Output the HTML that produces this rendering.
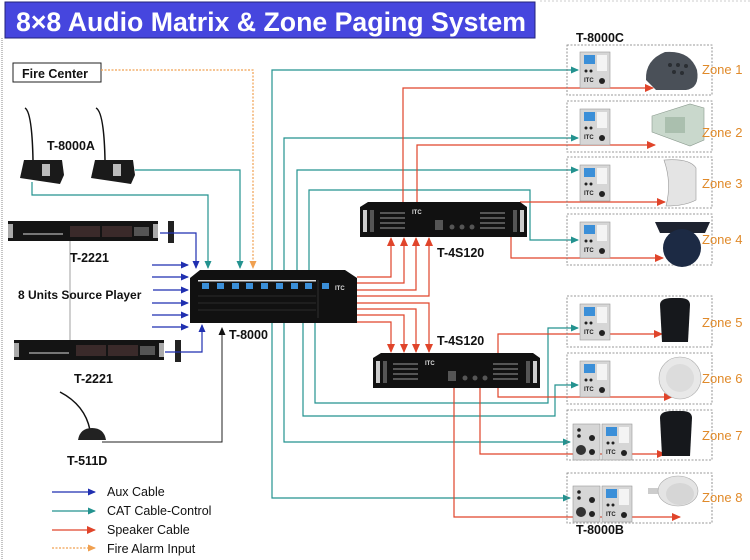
<!DOCTYPE html>
<html><head><meta charset="utf-8"><style>
html,body{margin:0;padding:0;background:#fff;}
svg{display:block;font-family:"Liberation Sans",Arial,sans-serif;}
</style></head><body>
<svg width="750" height="560" viewBox="0 0 750 560" xmlns="http://www.w3.org/2000/svg">
<defs>
<marker id="ab" markerWidth="8" markerHeight="8" refX="7" refY="4" orient="auto" markerUnits="userSpaceOnUse"><path d="M0,0.5 L8,4 L0,7.5z" fill="#1f2fb0"/></marker>
<marker id="at" markerWidth="8" markerHeight="8" refX="7" refY="4" orient="auto" markerUnits="userSpaceOnUse"><path d="M0,0.5 L8,4 L0,7.5z" fill="#23928f"/></marker>
<marker id="ar" markerWidth="9" markerHeight="9" refX="8" refY="4.5" orient="auto" markerUnits="userSpaceOnUse"><path d="M0,0.5 L9,4.5 L0,8.5z" fill="#e0442a"/></marker>
<marker id="ao" markerWidth="8" markerHeight="8" refX="7" refY="4" orient="auto" markerUnits="userSpaceOnUse"><path d="M0,0.5 L8,4 L0,7.5z" fill="#f0a050"/></marker>
<marker id="ak" markerWidth="8" markerHeight="8" refX="7" refY="4" orient="auto" markerUnits="userSpaceOnUse"><path d="M0,0.5 L8,4 L0,7.5z" fill="#111"/></marker>
<g id="panel">
<rect x="0" y="0" width="30" height="36" fill="#d6d6d6" stroke="#999" stroke-width="0.6"/>
<rect x="4" y="3" width="11" height="9" fill="#3b8fd8"/>
<rect x="17" y="3" width="10" height="16" fill="#f4f4f4"/>
<circle cx="6" cy="19" r="1.5" fill="#222"/><circle cx="11" cy="19" r="1.5" fill="#222"/>
<text x="4" y="30" font-size="6" font-weight="bold" fill="#222">ITC</text>
<circle cx="22" cy="29" r="3" fill="#222"/>
</g>
<g id="panel2">
<rect x="0" y="0" width="27" height="36" fill="#d6d6d6" stroke="#999" stroke-width="0.6"/>
<circle cx="6" cy="6" r="1.8" fill="#222"/><circle cx="6" cy="12" r="1.8" fill="#222"/>
<circle cx="8" cy="26" r="5" fill="#333"/><circle cx="19" cy="14" r="3" fill="#222"/><circle cx="19" cy="28" r="3" fill="#222"/>
<use href="#panel" x="29"/>
</g>
<g id="rack">
<rect x="0" y="0" width="150" height="20" fill="#141414"/>
<rect x="0" y="3" width="5" height="14" fill="#aaa"/><rect x="145" y="3" width="5" height="14" fill="#aaa"/>
<rect x="62" y="5" width="30" height="11" fill="#3a2a2a"/><rect x="94" y="5" width="30" height="11" fill="#3a2a2a"/>
<rect x="15" y="12" width="40" height="2" fill="#777"/><rect x="126" y="6" width="15" height="9" fill="#555"/>
</g>
<g id="amp">
<path d="M8,0 L160,0 L167,5 L167,35 L0,35 L0,5z" fill="#111"/>
<rect x="3" y="8" width="4" height="22" fill="#ccc"/><rect x="160" y="8" width="4" height="22" fill="#ccc"/>
<rect x="10" y="8" width="4" height="22" fill="#555"/><rect x="153" y="8" width="4" height="22" fill="#555"/>
<g fill="#555"><rect x="20" y="10" width="25" height="2"/><rect x="20" y="15" width="25" height="2"/><rect x="20" y="20" width="25" height="2"/><rect x="20" y="25" width="25" height="2"/>
<rect x="120" y="10" width="25" height="2"/><rect x="120" y="15" width="25" height="2"/><rect x="120" y="20" width="25" height="2"/><rect x="120" y="25" width="25" height="2"/>
<rect x="75" y="18" width="8" height="10"/><circle cx="92" cy="25" r="2.5"/><circle cx="102" cy="25" r="2.5"/><circle cx="112" cy="25" r="2.5"/></g>
<text x="52" y="12" font-size="6" font-weight="bold" fill="#ddd">ITC</text>
</g>
</defs>

<!-- title -->
<rect x="5" y="2" width="530" height="36" fill="#4646de" stroke="#23237a" stroke-width="1"/>
<text x="16" y="31" font-size="27" font-weight="bold" fill="#fff" textLength="510" lengthAdjust="spacingAndGlyphs">8×8 Audio Matrix &amp; Zone Paging System</text>
<line x1="2" y1="38" x2="2" y2="560" stroke="#888" stroke-dasharray="1,1"/>
<line x1="540" y1="1" x2="750" y2="1" stroke="#ccc" stroke-dasharray="2,2"/>

<!-- Fire center -->
<rect x="13" y="63" width="88" height="19" fill="#fff" stroke="#222"/>
<text x="22" y="78" font-size="12.5" font-weight="bold" fill="#111">Fire Center</text>
<polyline points="101,70 253,70 253,268" fill="none" stroke="#f0a050" stroke-width="1.2" stroke-dasharray="2,1.5" marker-end="url(#ao)"/>

<!-- T-8000A mics -->
<g>
<path d="M25,108 Q32,112 33,160" fill="none" stroke="#111" stroke-width="1.5"/>
<path d="M96,108 Q104,112 105,160" fill="none" stroke="#111" stroke-width="1.5"/>
<path d="M24,160 L62,160 L64,175 L60,184 L20,178 Z" fill="#1a1a1a"/>
<path d="M95,160 L133,160 L135,175 L131,184 L91,178 Z" fill="#1a1a1a"/>
<rect x="42" y="164" width="8" height="12" fill="#bbb"/><rect x="113" y="164" width="8" height="12" fill="#bbb"/>
</g>
<text x="47" y="150" font-size="12.5" font-weight="bold" fill="#111">T-8000A</text>
<polyline points="32,182 32,195 208,195 208,268" fill="none" stroke="#23928f" stroke-width="1.2" marker-end="url(#at)"/>
<polyline points="135,170 240,170 240,268" fill="none" stroke="#23928f" stroke-width="1.2" marker-end="url(#at)"/>

<!-- T-2221 -->
<line x1="70" y1="241" x2="70" y2="340" stroke="#888" stroke-width="0.8"/>
<use href="#rack" x="8" y="221"/>
<rect x="168" y="221" width="6" height="22" fill="#222"/>
<text x="70" y="262" font-size="12.5" font-weight="bold" fill="#111">T-2221</text>
<polyline points="160,233 196,233 196,268" fill="none" stroke="#1f2fb0" stroke-width="1.2" marker-end="url(#ab)"/>
<use href="#rack" x="14" y="340"/>
<rect x="175" y="340" width="6" height="22" fill="#222"/>
<text x="74" y="383" font-size="12.5" font-weight="bold" fill="#111">T-2221</text>
<polyline points="165,352 202,352 202,325" fill="none" stroke="#1f2fb0" stroke-width="1.2" marker-end="url(#ab)"/>
<g stroke="#1f2fb0" stroke-width="1.2" marker-end="url(#ab)">
<line x1="152" y1="265" x2="188" y2="265"/><line x1="152" y1="277" x2="188" y2="277"/>
<line x1="152" y1="290" x2="188" y2="290"/><line x1="152" y1="303" x2="188" y2="303"/>
<line x1="152" y1="315" x2="188" y2="315"/><line x1="152" y1="327" x2="188" y2="327"/>
</g>
<rect x="17" y="287" width="136" height="14" fill="#fff"/>
<line x1="70" y1="287" x2="70" y2="301" stroke="#888" stroke-width="0.8"/>
<text x="18" y="299" font-size="12" font-weight="bold" fill="#111">8 Units Source Player</text>

<!-- T-511D -->
<path d="M60,392 Q85,405 90,430" fill="none" stroke="#111" stroke-width="1.5"/>
<path d="M78,440 Q80,428 92,428 Q104,428 106,440 Z" fill="#222"/>
<text x="67" y="465" font-size="12.5" font-weight="bold" fill="#111">T-511D</text>
<polyline points="102,442 222,442 222,328" fill="none" stroke="#222" stroke-width="1" marker-end="url(#ak)"/>

<!-- teal to zones (top) -->
<g fill="none" stroke="#23928f" stroke-width="1.2" marker-end="url(#at)">
<polyline points="272,270 272,70 578,70"/>
<polyline points="284,270 284,138 578,138"/>
<polyline points="297,270 297,170 578,170"/>
<polyline points="309,270 309,190 530,190 530,240 578,240"/>
<polyline points="272,323 272,498 570,498"/>
<polyline points="284,323 284,442 570,442"/>
<polyline points="303,323 303,416 555,416 555,385 578,385"/>
<polyline points="315,323 315,403 548,403 548,328 578,328"/>
</g>

<!-- T-8000 -->
<path d="M200,270 L345,270 L357,278 L357,323 L190,323 L190,278z" fill="#111"/>
<g fill="#3b8fd8">
<rect x="202" y="283" width="7" height="6"/><rect x="217" y="283" width="7" height="6"/><rect x="232" y="283" width="7" height="6"/><rect x="246" y="283" width="7" height="6"/>
<rect x="261" y="283" width="7" height="6"/><rect x="276" y="283" width="7" height="6"/><rect x="291" y="283" width="7" height="6"/><rect x="305" y="283" width="7" height="6"/><rect x="322" y="283" width="7" height="6"/>
</g>
<rect x="198" y="280" width="118" height="1.5" fill="#ddd"/>
<g stroke="#444" stroke-width="0.6"><line x1="198" y1="296" x2="316" y2="296"/><line x1="198" y1="303" x2="316" y2="303"/><line x1="198" y1="310" x2="316" y2="310"/><line x1="318" y1="280" x2="318" y2="318"/></g>
<text x="335" y="290" font-size="6" font-weight="bold" fill="#ddd">ITC</text>
<text x="229" y="339" font-size="12.5" font-weight="bold" fill="#111">T-8000</text>

<!-- red to amps -->
<g fill="none" stroke="#e0442a" stroke-width="1.2" marker-end="url(#ar)">
<polyline points="357,277 391,277 391,238"/>
<polyline points="357,283 404,283 404,238"/>
<polyline points="357,290 416,290 416,238"/>
<polyline points="357,296 429,296 429,238"/>
<polyline points="357,303 429,303 429,352"/>
<polyline points="357,309 416,309 416,352"/>
<polyline points="357,315 404,315 404,352"/>
<polyline points="357,322 391,322 391,352"/>
<!-- amp outputs -->
<polyline points="403,202 403,88 653,88"/>
<polyline points="417,202 417,145 655,145"/>
<polyline points="520,202 665,202"/>
<polyline points="511,237 511,258 663,258"/>
<polyline points="498,353 498,334 662,334"/>
<polyline points="498,388 498,397 672,397"/>
<polyline points="480,388 480,454 665,454"/>
<polyline points="454,388 454,517 680,517"/>
</g>

<use href="#amp" x="360" y="202"/>
<text x="437" y="257" font-size="12.5" font-weight="bold" fill="#111">T-4S120</text>
<use href="#amp" x="373" y="353"/>
<text x="437" y="345" font-size="12.5" font-weight="bold" fill="#111">T-4S120</text>

<!-- zone boxes -->
<g fill="none" stroke="#777" stroke-width="0.8" stroke-dasharray="2,1.5">
<rect x="567" y="45" width="145" height="50"/><rect x="567" y="101" width="145" height="51"/>
<rect x="567" y="157" width="145" height="51"/><rect x="567" y="214" width="145" height="51"/>
<rect x="567" y="296" width="145" height="51"/><rect x="567" y="353" width="145" height="51"/>
<rect x="567" y="410" width="145" height="50"/><rect x="567" y="473" width="145" height="50"/>
</g>
<text x="576" y="42" font-size="12.5" font-weight="bold" fill="#111">T-8000C</text>
<text x="576" y="534" font-size="12.5" font-weight="bold" fill="#111">T-8000B</text>
<use href="#panel" x="580" y="52"/><use href="#panel" x="580" y="109"/>
<use href="#panel" x="580" y="165"/><use href="#panel" x="580" y="222"/>
<use href="#panel" x="580" y="304"/><use href="#panel" x="580" y="361"/>
<use href="#panel2" x="573" y="424"/><use href="#panel2" x="573" y="486"/>

<!-- speakers -->
<path d="M646,80 Q645,60 665,52 Q690,50 697,70 Q700,88 686,90 L656,90 Z" fill="#4a5058"/>
<g fill="#2a2e33"><circle cx="670" cy="65" r="2"/><circle cx="678" cy="65" r="2"/><circle cx="686" cy="66" r="2"/><circle cx="674" cy="72" r="2"/><circle cx="682" cy="73" r="2"/></g>
<path d="M652,116 L690,104 L704,108 L704,140 L690,146 L652,132 Z" fill="#c9d8cc" stroke="#8a9a8e" stroke-width="0.6"/>
<rect x="665" y="117" width="20" height="16" fill="#aabfae"/>
<path d="M664,160 Q690,158 696,168 L696,200 Q685,206 666,206 Q672,183 664,160 Z" fill="#e4e4e4" stroke="#999" stroke-width="0.6"/>
<path d="M655,222 L710,222 L705,233 L660,233 Z" fill="#1e2330"/>
<circle cx="682" cy="248" r="19" fill="#1c2a44"/>
<path d="M660,305 Q660,298 672,298 L680,298 Q690,298 690,305 L688,342 L662,342 Z" fill="#16181c"/>
<circle cx="680" cy="378" r="21" fill="#e8e8e8" stroke="#aaa" stroke-width="0.6"/><circle cx="680" cy="378" r="14" fill="#dcdcdc"/>
<path d="M660,418 Q660,411 672,411 L682,411 Q692,411 692,418 L690,456 L662,456 Z" fill="#16181c"/>
<rect x="648" y="488" width="14" height="6" fill="#ccc"/>
<ellipse cx="678" cy="491" rx="20" ry="15" fill="#e4e4e4" stroke="#aaa" stroke-width="0.6"/><ellipse cx="680" cy="494" rx="14" ry="11" fill="#d6d6d6"/>

<g font-size="13" fill="#e08a2a">
<text x="702" y="74">Zone 1</text><text x="702" y="137">Zone 2</text>
<text x="702" y="188">Zone 3</text><text x="702" y="244">Zone 4</text>
<text x="702" y="327">Zone 5</text><text x="702" y="383">Zone 6</text>
<text x="702" y="440">Zone 7</text><text x="702" y="502">Zone 8</text>
</g>

<!-- legend -->
<line x1="52" y1="492" x2="95" y2="492" stroke="#1f2fb0" stroke-width="1.2" marker-end="url(#ab)"/>
<line x1="52" y1="511" x2="95" y2="511" stroke="#23928f" stroke-width="1.2" marker-end="url(#at)"/>
<line x1="52" y1="530" x2="95" y2="530" stroke="#e0442a" stroke-width="1.2" marker-end="url(#ar)"/>
<line x1="52" y1="548" x2="95" y2="548" stroke="#f0a050" stroke-width="1.2" stroke-dasharray="2,1.5" marker-end="url(#ao)"/>
<g font-size="12.5" fill="#111">
<text x="107" y="496">Aux Cable</text>
<text x="107" y="515">CAT Cable-Control</text>
<text x="107" y="534">Speaker Cable</text>
<text x="107" y="553">Fire Alarm Input</text>
</g>
</svg>
</body></html>
